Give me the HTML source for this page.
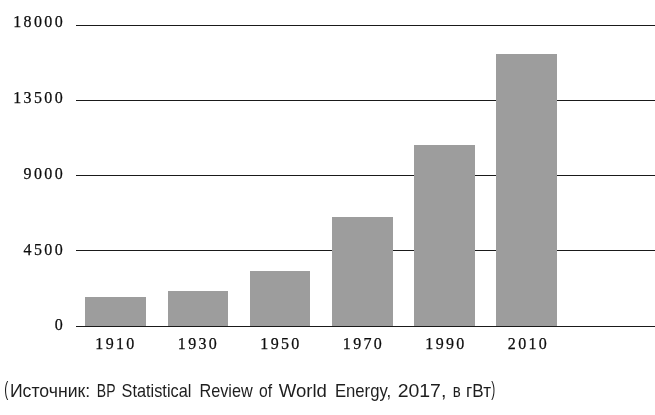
<!DOCTYPE html>
<html><head><meta charset="utf-8">
<style>
html,body{margin:0;padding:0;background:#fff;}
body{width:655px;height:415px;overflow:hidden;position:relative;}
svg{position:absolute;left:0;top:0;display:block;will-change:transform;}
.n{font-family:"Liberation Serif",serif;font-size:16px;letter-spacing:2.35px;fill:#0d0d0d;stroke:#0d0d0d;stroke-width:0.25px;}
.c{font-family:"Liberation Sans",sans-serif;font-size:18.5px;fill:#1e1e1e;}
</style></head><body>
<svg width="655" height="415" viewBox="0 0 655 415">
<g fill="#1a1a1a" shape-rendering="crispEdges">
<rect x="76" y="25" width="579" height="1"/>
<rect x="76" y="100" width="579" height="1"/>
<rect x="76" y="175" width="579" height="1"/>
<rect x="76" y="250" width="579" height="1"/>
</g>
<g fill="#9d9d9d" shape-rendering="crispEdges">
<rect x="85" y="297" width="61" height="29"/>
<rect x="168" y="291" width="60" height="35"/>
<rect x="250" y="271" width="60" height="55"/>
<rect x="332" y="217" width="61" height="109"/>
<rect x="414" y="145" width="61" height="181"/>
<rect x="496" y="54" width="61" height="272"/>
</g>
<rect x="76" y="326" width="579" height="1" fill="#1a1a1a" shape-rendering="crispEdges"/>
<g class="n" text-anchor="end">
<text x="65" y="27">18000</text>
<text x="65" y="102.5">13500</text>
<text x="65" y="178.8">9000</text>
<text x="65" y="254.8">4500</text>
<text x="65" y="329.8">0</text>
</g>
<g class="n" text-anchor="middle">
<text x="116" y="349">1910</text>
<text x="198.5" y="349">1930</text>
<text x="281" y="349">1950</text>
<text x="363.5" y="349">1970</text>
<text x="446" y="349">1990</text>
<text x="528.5" y="349">2010</text>
</g>
<g class="c">
<text x="4.15" y="396.3" textLength="4.00" lengthAdjust="spacingAndGlyphs" font-size="20">(</text>
<text x="9.95" y="396.9" textLength="80.23" lengthAdjust="spacingAndGlyphs">Источник:</text>
<text x="96.84" y="396.9" textLength="18.68" lengthAdjust="spacingAndGlyphs">BP</text>
<text x="121.62" y="396.9" textLength="69.73" lengthAdjust="spacingAndGlyphs">Statistical</text>
<text x="199.42" y="396.9" textLength="53.29" lengthAdjust="spacingAndGlyphs">Review</text>
<text x="259.00" y="396.9" textLength="13.12" lengthAdjust="spacingAndGlyphs">of</text>
<text x="278.70" y="396.9" textLength="48.18" lengthAdjust="spacingAndGlyphs">World</text>
<text x="334.90" y="396.9" textLength="56.26" lengthAdjust="spacingAndGlyphs">Energy,</text>
<text x="397.65" y="396.9" textLength="48.72" lengthAdjust="spacingAndGlyphs">2017,</text>
<text x="452.79" y="396.9" textLength="7.99" lengthAdjust="spacingAndGlyphs">в</text>
<text x="466.08" y="396.9" textLength="24.88" lengthAdjust="spacingAndGlyphs">гВт</text>
<text x="491.20" y="396.3" textLength="4.00" lengthAdjust="spacingAndGlyphs" font-size="20">)</text>
</g>
</svg>
</body></html>
